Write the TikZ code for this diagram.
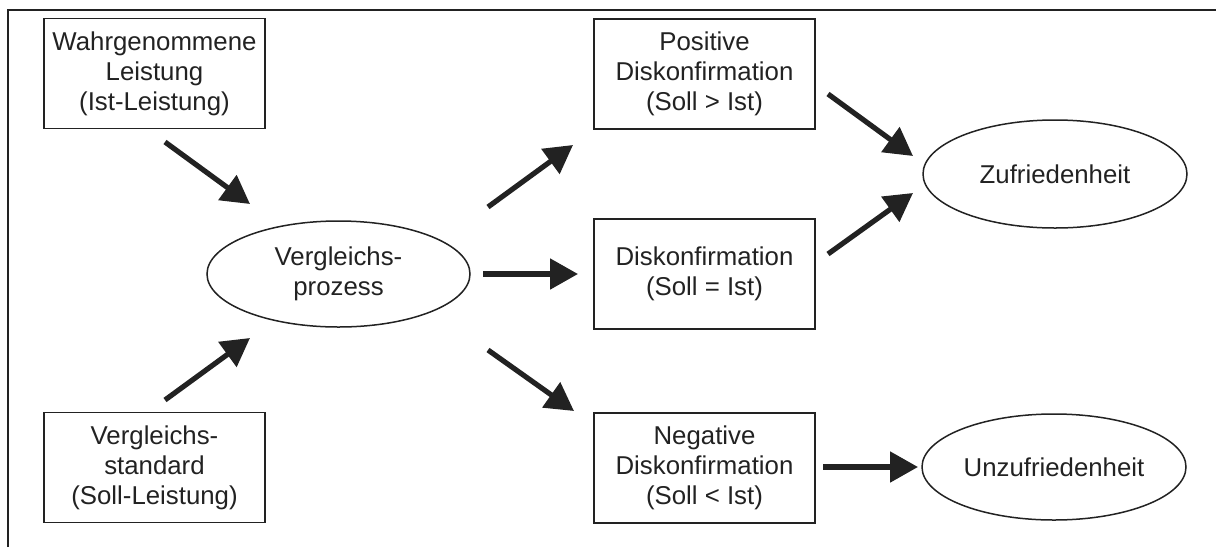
\documentclass[tikz,border=0pt]{standalone}
\usepackage{fontspec}
\setmainfont{Liberation Sans}
\usetikzlibrary{shapes.geometric,arrows.meta}
\definecolor{ink}{HTML}{222222}
\begin{document}
\begin{tikzpicture}[x=0.5pt,y=-0.5pt,
  every node/.style={font=\fontsize{12.9pt}{15pt}\selectfont, text=ink, align=center},
  stepbox/.style={draw=ink, line width=0.75pt, rectangle, minimum width=110.5pt, minimum height=55pt, inner sep=0pt},
  oval/.style={draw=ink, line width=0.75pt, ellipse, minimum width=132pt, minimum height=53pt, inner sep=0pt},
  bigarrow/.style={draw=ink, line width=2.6pt, -{Triangle[length=14pt,width=15pt]}},
  frame/.style={draw=ink, line width=1pt}]
  \useasboundingbox (0,0) rectangle (1216,547);
  % open frame: top and left edges only
  \draw[frame] (8,547) -- (8,10) -- (1216,10);

  % left column
  \node[stepbox] (ist)  at (154.5,73.5) {Wahrgenommene\\Leistung\\(Ist-Leistung)};
  \node[stepbox] (soll) at (154.5,467.5) {Vergleichs-\\standard\\(Soll-Leistung)};
  \node[oval, minimum width=131.5pt] (vgl) at (338.5,274) {Vergleichs-\\prozess};

  % middle column
  \node[stepbox] (pos) at (704.5,74) {Positive\\Diskonfirmation\\(Soll > Ist)};
  \node[stepbox] (dis) at (704.5,274) {Diskonfirmation\\(Soll = Ist)};
  \node[stepbox] (neg) at (704.5,468) {Negative\\Diskonfirmation\\(Soll < Ist)};

  % outcomes
  \node[oval, minimum height=54pt] (zuf) at (1055,174) {Zufriedenheit};
  \node[oval] (unz) at (1054,467) {Unzufriedenheit};

  % arrow end points (arrows float between the nodes)
  \coordinate (a1s) at (165,142);  \coordinate (a1e) at (250,204);
  \coordinate (a2s) at (165,400);  \coordinate (a2e) at (250,338);
  \coordinate (a3s) at (488,207);  \coordinate (a3e) at (573,145);
  \coordinate (a4s) at (483,274);  \coordinate (a4e) at (578,274);
  \coordinate (a5s) at (488,350);  \coordinate (a5e) at (574,411);
  \coordinate (a6s) at (828,94);   \coordinate (a6e) at (913,156);
  \coordinate (a7s) at (828,254);  \coordinate (a7e) at (913,193);
  \coordinate (a8s) at (823,467);  \coordinate (a8e) at (918,467);

  \draw[bigarrow] (a1s) -- (a1e);
  \draw[bigarrow] (a2s) -- (a2e);
  \draw[bigarrow] (a3s) -- (a3e);
  \draw[bigarrow] (a4s) -- (a4e);
  \draw[bigarrow] (a5s) -- (a5e);
  \draw[bigarrow] (a6s) -- (a6e);
  \draw[bigarrow] (a7s) -- (a7e);
  \draw[bigarrow] (a8s) -- (a8e);
\end{tikzpicture}
\end{document}
